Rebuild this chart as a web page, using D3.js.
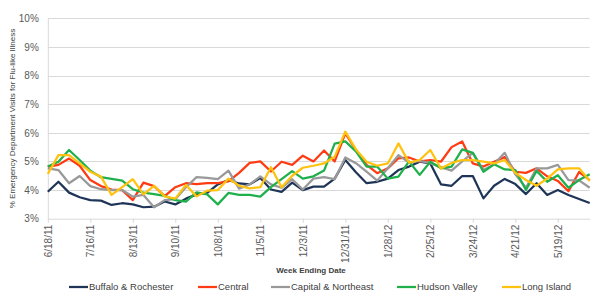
<!DOCTYPE html>
<html>
<head>
<meta charset="utf-8">
<script src="https://cdn.jsdelivr.net/npm/d3@7"></script>
<style>
  body { margin: 0; background: #fff; }
  svg { display: block; font-family: "Liberation Sans", Arial, sans-serif; }
</style>
</head>
<body>
<svg id="chart" width="600" height="300"></svg>
<script>
// --- Data ---
const weeks = ["6/18/11","6/25/11","7/2/11","7/9/11","7/16/11","7/23/11","7/30/11","8/6/11","8/13/11","8/20/11",
  "8/27/11","9/3/11","9/10/11","9/17/11","9/24/11","10/1/11","10/8/11","10/15/11","10/22/11","10/29/11",
  "11/5/11","11/12/11","11/19/11","11/26/11","12/3/11","12/10/11","12/17/11","12/24/11","12/31/11","1/7/12",
  "1/14/12","1/21/12","1/28/12","2/4/12","2/11/12","2/18/12","2/25/12","3/3/12","3/10/12","3/17/12",
  "3/24/12","3/31/12","4/7/12","4/14/12","4/21/12","4/28/12","5/5/12","5/12/12","5/19/12","5/26/12",
  "6/2/12","6/9/12"];

const tickLabels = ["6/18/11","7/16/11","8/13/11","9/10/11","10/8/11","11/5/11","12/3/11",
  "12/31/11","1/28/12","2/25/12","3/24/12","4/21/12","5/19/12"];

const yTicks = [3, 4, 5, 6, 7, 8, 9, 10];

const regions = ["Buffalo & Rochester", "Central", "Capital & Northeast", "Hudson Valley", "Long Island"];

const buffalo = [3.94,4.29,3.91,3.75,3.65,3.63,3.48,3.54,3.50,3.40,
  3.42,3.60,3.50,3.70,3.85,3.90,4.20,4.35,4.23,4.20,
  4.42,4.02,3.94,4.26,4.00,4.12,4.12,4.40,5.05,4.62,
  4.24,4.29,4.40,4.70,4.82,4.99,4.93,4.20,4.15,4.49,
  4.49,3.71,4.15,4.39,4.21,3.86,4.24,3.83,4.00,3.83,
  3.69,3.55];

const central = [4.82,4.88,5.10,4.85,4.35,4.14,4.02,4.00,3.65,4.26,
  4.14,3.79,4.10,4.24,4.21,4.24,4.24,4.30,4.60,4.95,
  5.00,4.65,4.99,4.88,5.20,5.00,5.38,5.00,5.98,5.40,
  4.88,4.59,4.76,5.11,5.14,5.00,5.05,4.99,5.50,5.70,
  4.93,4.82,4.99,5.15,4.64,4.60,4.76,4.48,4.32,3.96,
  4.63,4.35];

const capital = [4.76,4.70,4.24,4.49,4.14,4.03,4.00,4.00,3.77,3.83,
  3.40,3.65,3.68,4.10,4.45,4.43,4.38,4.68,4.05,4.20,
  4.48,4.20,4.08,4.38,4.02,4.40,4.45,4.38,5.14,4.94,
  4.64,4.33,4.76,5.22,4.96,5.02,4.94,4.80,4.68,5.00,
  5.30,4.70,4.90,5.30,4.55,4.08,4.76,4.76,4.88,4.35,
  4.34,4.08];

const hudson = [4.82,4.99,5.40,5.05,4.68,4.45,4.39,4.33,4.03,3.91,
  3.86,3.80,3.65,3.60,3.92,3.85,3.50,3.90,3.83,3.83,
  3.77,4.10,4.38,4.66,4.40,4.48,4.68,5.62,5.70,5.35,
  4.82,4.82,4.40,4.47,5.00,4.53,4.99,4.76,4.82,5.42,
  5.30,4.64,4.90,4.72,4.70,4.00,4.67,4.29,4.52,4.08,
  4.35,4.55];

const longIsland = [4.56,5.22,5.22,4.93,4.64,4.47,3.83,4.10,4.38,3.85,
  4.15,3.78,3.70,4.18,3.78,3.98,4.00,4.40,4.15,4.06,
  4.10,4.80,4.10,4.50,4.78,4.85,4.93,5.17,6.04,5.42,
  4.99,4.85,4.93,5.63,4.96,5.05,5.40,4.75,4.95,5.05,
  5.05,4.99,4.93,5.05,4.60,4.35,4.15,4.40,4.72,4.76,
  4.76,4.32];

const colors = ["#1f3557", "#ff3b14", "#999999", "#1fb04c", "#ffc20e"];

// --- Setup ---
const svg = d3.select("#chart");
const plotLeft = 47.8, plotRight = 589.7, plotTop = 18.3, plotBottom = 218.7;

const x = d3.scalePoint().domain(weeks).range([plotLeft, plotRight]);
const y = d3.scaleLinear().domain([3, 10]).range([plotBottom, plotTop]);

// gridlines
svg.append("g")
  .selectAll("line")
  .data(yTicks.filter(d => d > 3))
  .join("line")
  .attr("x1", plotLeft).attr("x2", plotRight)
  .attr("y1", d => Math.round(y(d)) + 0.5).attr("y2", d => Math.round(y(d)) + 0.5)
  .attr("stroke", "#d9d9d9");

// y axis
const yAxis = svg.append("g")
  .attr("transform", `translate(${plotLeft},0)`)
  .call(d3.axisLeft(y).tickValues(yTicks).tickSize(0).tickPadding(9).tickFormat(d => d + "%"));
yAxis.select(".domain").attr("stroke", "#d9d9d9");
yAxis.selectAll("text").attr("fill", "#595959").style("font-size", "10px");

// x axis
const xAxis = svg.append("g")
  .attr("transform", `translate(0,${plotBottom})`)
  .call(d3.axisBottom(x).tickValues(tickLabels).tickSize(4).tickSizeOuter(0));
xAxis.select(".domain").attr("stroke", "#d9d9d9");
xAxis.selectAll(".tick line").attr("stroke", "#d9d9d9");
xAxis.selectAll("text")
  .attr("fill", "#595959")
  .style("font-size", "10px")
  .attr("transform", "rotate(-90)")
  .attr("text-anchor", "end")
  .attr("x", -6).attr("y", 0).attr("dy", "0.35em");

// axis titles
svg.append("text")
  .attr("transform", `translate(15,${(plotTop + plotBottom) / 2}) rotate(-90)`)
  .attr("text-anchor", "middle")
  .attr("fill", "#404040")
  .style("font-size", "8px")
  .text("% Emergency Department Visits for Flu-like Illness");

svg.append("text")
  .attr("x", 311).attr("y", 273)
  .attr("text-anchor", "middle")
  .attr("fill", "#404040")
  .style("font-size", "8px")
  .style("font-weight", "bold")
  .text("Week Ending Date");

// --- Lines ---
const series = [buffalo, central, capital, hudson, longIsland];
const line = d3.line().x((d, i) => x(weeks[i])).y(d => y(d));

svg.append("g")
  .selectAll("path")
  .data(series)
  .join("path")
  .attr("d", d => line(d))
  .attr("fill", "none")
  .attr("stroke", (d, i) => colors[i])
  .attr("stroke-width", 2.25)
  .attr("stroke-linejoin", "round");

// --- Legend ---
const legendX = [69, 198, 271, 397, 502];
const legend = svg.append("g").attr("transform", "translate(0,287)");
legend.selectAll("g")
  .data(regions)
  .join("g")
  .attr("transform", (d, i) => `translate(${legendX[i]},0)`)
  .call(g => {
    g.append("line")
      .attr("x1", 0).attr("x2", 19)
      .attr("stroke", (d, i) => colors[i])
      .attr("stroke-width", 2.25);
    g.append("text")
      .attr("x", 20).attr("dy", "0.35em")
      .attr("fill", "#404040")
      .style("font-size", "9.5px")
      .text(d => d);
  });
</script>
</body>
</html>
